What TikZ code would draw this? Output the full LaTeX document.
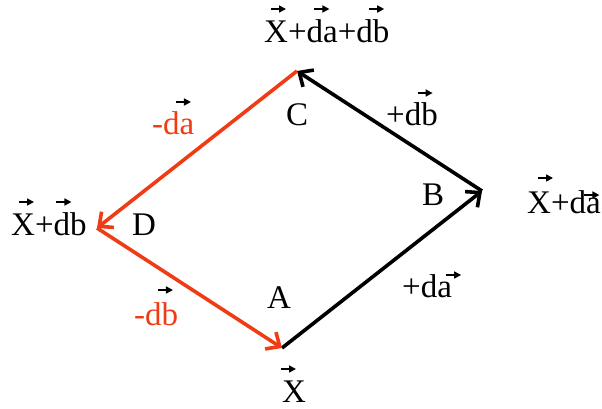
\documentclass[tikz,border=0pt]{standalone}
\usepackage{fontspec}
\setmainfont{Liberation Serif}
\usetikzlibrary{arrows.meta}
\definecolor{vred}{RGB}{240,60,20}
\newcommand\smallarr{\tikz[baseline=0pt]\draw[black,line width=1.6pt,-{Triangle[length=7pt,width=7pt]}] (0pt,0pt)--(15pt,0pt);}
\newcommand\ovar[3]{\leavevmode\rlap{\kern#1\raisebox{#2}{\smallarr}}#3}
\tikzset{
  lbl/.style={anchor=base west,inner sep=0pt,font=\fontsize{33}{38}\selectfont},
  vec/.style={line width=3.6pt,-{Straight Barb[length=11pt,width=20pt]}},
  pt/.style={inner sep=0pt,minimum size=0pt}
}
\begin{document}
\begin{tikzpicture}[x=1pt,y=-1pt]
\useasboundingbox (0,0) rectangle (602,409);
\coordinate (A) at (282,348);
\coordinate (B) at (482,191);
\coordinate (C) at (297,71);
\coordinate (D) at (97,228);
\draw[vec,black] (A) -- (B);
\draw[vec,black] (B) -- (C);
\draw[vec,vred] (C) -- (D);
\draw[vec,vred] (D) -- (A);
% vertex labels
\node[lbl] (lA) at (267,308) {A};
\node[lbl] (lB) at (422,205) {B};
\node[lbl] (lC) at (286,125) {C};
\node[lbl] (lD) at (132,235) {D};
% vector labels
\node[lbl] (tX) at (282,402) {\ovar{-2pt}{33pt}{X}};
\node[lbl] (tXa) at (527,213) {\ovar{10pt}{35pt}{X}+\ovar{14pt}{18pt}{d}a};
\node[lbl] (tXb) at (11,235) {\ovar{7pt}{33pt}{X}+\ovar{2pt}{33pt}{d}b};
\node[lbl] (tXab) at (264,43) {\ovar{6pt}{34pt}{X}+\ovar{7pt}{34pt}{d}a+\ovar{12pt}{34pt}{d}b};
\node[lbl] (tda) at (402,297) {+d\ovar{8pt}{22pt}{a}};
\node[lbl] (tdb) at (386,125) {+\ovar{12pt}{32pt}{d}b};
\node[lbl,text=vred] (tmda) at (152,135) {-\ovar{12pt}{33pt}{d}a};
\node[lbl,text=vred] (tmdb) at (134,325) {-\ovar{12pt}{35pt}{d}b};
\end{tikzpicture}
\end{document}
